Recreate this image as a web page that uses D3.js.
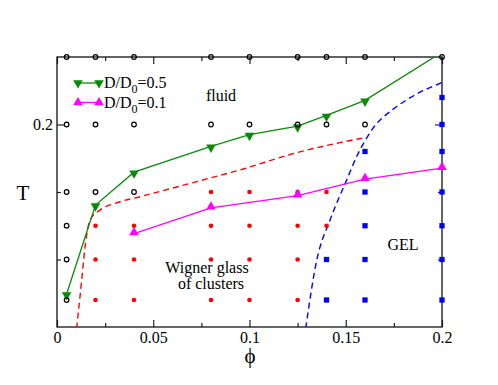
<!DOCTYPE html>
<html>
<head>
<meta charset="utf-8">
<script src="https://cdn.jsdelivr.net/npm/d3@7"></script>
<style>
body { margin: 0; background: #fff; }
svg text { font-family: "Liberation Serif", "Times New Roman", "DejaVu Serif", serif !important; }
</style>
</head>
<body>
<svg id="svg_elem"></svg>
<script>
//chart data, [phi, T]
const fluidPoints = [
	[0.005, 0.25], [0.02, 0.25], [0.04, 0.25], [0.08, 0.25], [0.1, 0.25], [0.125, 0.25], [0.14, 0.25], [0.16, 0.25], [0.2, 0.25],
	[0.005, 0.2], [0.02, 0.2], [0.04, 0.2], [0.08, 0.2], [0.1, 0.2], [0.125, 0.2], [0.14, 0.2], [0.16, 0.2],
	[0.005, 0.15], [0.02, 0.15], [0.04, 0.15],
	[0.005, 0.125], [0.005, 0.1], [0.005, 0.07]
];
const wignerPoints = [
	[0.08, 0.15], [0.1, 0.15], [0.125, 0.15], [0.14, 0.15],
	[0.02, 0.125], [0.04, 0.125], [0.08, 0.125], [0.1, 0.125], [0.125, 0.125], [0.14, 0.125],
	[0.02, 0.1], [0.04, 0.1], [0.08, 0.1], [0.1, 0.1], [0.125, 0.1],
	[0.02, 0.07], [0.04, 0.07], [0.08, 0.07], [0.1, 0.07], [0.125, 0.07]
];
const gelPoints = [
	[0.2, 0.22], [0.2, 0.2], [0.16, 0.18], [0.2, 0.18],
	[0.16, 0.15], [0.2, 0.15], [0.16, 0.125], [0.2, 0.125],
	[0.14, 0.1], [0.16, 0.1], [0.2, 0.1], [0.14, 0.07], [0.16, 0.07], [0.2, 0.07]
];
const diff05 = [
	[0.005, 0.0744], [0.02, 0.1403], [0.04, 0.1647], [0.08, 0.1838], [0.1, 0.1925],
	[0.125, 0.1988], [0.14, 0.2067], [0.16, 0.2179], [0.2, 0.2535]
];
const diff01 = [
	[0.04, 0.1192], [0.08, 0.1383], [0.125, 0.1473], [0.16, 0.1595], [0.2, 0.1677]
];
const redBoundary = [
	[0.0102, 0.049], [0.0128, 0.0843], [0.01455, 0.1092], [0.01714, 0.1291], [0.0223, 0.1366],
	[0.031, 0.142], [0.0431, 0.1465], [0.0603, 0.153], [0.0726, 0.1577], [0.0951, 0.1664],
	[0.1245, 0.1791], [0.147, 0.1866], [0.16, 0.1903]
];
const blueBoundary = [
	[0.1292, 0.049], [0.1349, 0.0993], [0.1418, 0.1291], [0.1505, 0.159], [0.1557, 0.1763],
	[0.1643, 0.1975], [0.1745, 0.2112], [0.185, 0.2211], [0.2, 0.2311]
];
const xTicks = [0, 0.05, 0.1, 0.15, 0.2];
const xMinorTicks = [0.025, 0.075, 0.125, 0.175];
const yTicks = [0.2];
const yMinorTicks = [0.1, 0.15];

//define constants
const svgWidth = 498;
const svgHeight = 385;
const plotLeft = 57, plotRight = 442, plotTop = 57, plotBottom = 327;
const green = '#0a8a0a';
const serif = '"Liberation Serif", "Times New Roman", serif';

var svg = d3.select('#svg_elem')
	.attr('width', svgWidth)
	.attr('height', svgHeight)
	.attr('font-family', serif);

var xScale = d3.scaleLinear().domain([0, 0.2]).range([plotLeft, plotRight]);
var yScale = d3.scaleLinear().domain([0.05, 0.25]).range([plotBottom, plotTop]);

svg.append('clipPath').attr('id', 'plot_clip')
	.append('rect')
		.attr('x', plotLeft).attr('y', plotTop)
		.attr('width', plotRight - plotLeft).attr('height', plotBottom - plotTop);

//axes, ticks inward on all four sides
function styleAxis(g){
	g.attr('font-family', serif).attr('font-size', 16);
	g.select('.domain').remove();
	g.selectAll('line').attr('stroke', '#222').attr('stroke-width', 1.2);
	g.selectAll('text').attr('fill', '#000');
}
svg.append('g').attr('transform', `translate(0,${plotBottom})`)
	.call(d3.axisBottom(xScale).tickValues(xTicks).tickSize(-7).tickPadding(5).tickFormat(d3.format('~g')))
	.call(styleAxis);
svg.append('g').attr('transform', `translate(0,${plotBottom})`)
	.call(d3.axisBottom(xScale).tickValues(xMinorTicks).tickSize(-4).tickFormat(''))
	.call(styleAxis);
svg.append('g').attr('transform', `translate(0,${plotTop})`)
	.call(d3.axisTop(xScale).tickValues(xTicks).tickSize(-7).tickFormat(''))
	.call(styleAxis);
svg.append('g').attr('transform', `translate(0,${plotTop})`)
	.call(d3.axisTop(xScale).tickValues(xMinorTicks).tickSize(-4).tickFormat(''))
	.call(styleAxis);
svg.append('g').attr('transform', `translate(${plotLeft},0)`)
	.call(d3.axisLeft(yScale).tickValues(yTicks).tickSize(-7).tickPadding(4).tickFormat(d3.format('~g')))
	.call(styleAxis);
svg.append('g').attr('transform', `translate(${plotLeft},0)`)
	.call(d3.axisLeft(yScale).tickValues(yMinorTicks).tickSize(-4).tickFormat(''))
	.call(styleAxis);
svg.append('g').attr('transform', `translate(${plotRight},0)`)
	.call(d3.axisRight(yScale).tickValues(yTicks).tickSize(-7).tickFormat(''))
	.call(styleAxis);
svg.append('g').attr('transform', `translate(${plotRight},0)`)
	.call(d3.axisRight(yScale).tickValues(yMinorTicks).tickSize(-4).tickFormat(''))
	.call(styleAxis);

//frame
svg.append('rect')
	.attr('x', plotLeft).attr('y', plotTop)
	.attr('width', plotRight - plotLeft).attr('height', plotBottom - plotTop)
	.attr('fill', 'none').attr('stroke', '#111').attr('stroke-width', 1.3);

var plot = svg.append('g').attr('clip-path', 'url(#plot_clip)');

//dashed boundaries
var smooth = d3.line()
	.x(d => xScale(d[0]))
	.y(d => yScale(d[1]))
	.curve(d3.curveMonotoneX);
plot.append('path').attr('d', smooth(redBoundary))
	.attr('fill', 'none').attr('stroke', '#ff0000').attr('stroke-width', 1.4).attr('stroke-dasharray', '6,4');
plot.append('path').attr('d', smooth(blueBoundary))
	.attr('fill', 'none').attr('stroke', '#0000ff').attr('stroke-width', 1.4).attr('stroke-dasharray', '6,4');

//state points
var square = d3.symbol().type(d3.symbolSquare).size(28);
plot.selectAll('.wigner').data(wignerPoints).enter()
	.append('circle').classed('wigner', true)
	.attr('cx', d => xScale(d[0]))
	.attr('cy', d => yScale(d[1]))
	.attr('r', 2.3)
	.attr('fill', '#ff0000');
svg.selectAll('.gel').data(gelPoints).enter()
	.append('path').classed('gel', true)
	.attr('d', square)
	.attr('transform', d => `translate(${xScale(d[0])},${yScale(d[1])})`)
	.attr('fill', '#0000ff');
svg.selectAll('.fluid').data(fluidPoints).enter()
	.append('circle').classed('fluid', true)
	.attr('cx', d => xScale(d[0]))
	.attr('cy', d => yScale(d[1]))
	.attr('r', 2.3)
	.attr('fill', 'none').attr('stroke', '#000').attr('stroke-width', 1.2);

//diffusivity lines
var straight = d3.line()
	.x(d => xScale(d[0]))
	.y(d => yScale(d[1]));
var tri = d3.symbol().type(d3.symbolTriangle).size(40);

plot.append('path').attr('d', straight(diff05))
	.attr('fill', 'none').attr('stroke', green).attr('stroke-width', 1.3);
plot.selectAll('.d05').data(diff05.filter(d => d[1] <= 0.25)).enter()
	.append('path').classed('d05', true)
	.attr('d', tri)
	.attr('transform', d => `translate(${xScale(d[0])},${yScale(d[1]) + 1}) rotate(180)`)
	.attr('fill', green);

svg.append('path').attr('d', straight(diff01))
	.attr('fill', 'none').attr('stroke', '#ff00ff').attr('stroke-width', 1.3);
svg.selectAll('.d01').data(diff01).enter()
	.append('path').classed('d01', true)
	.attr('d', tri)
	.attr('transform', d => `translate(${xScale(d[0])},${yScale(d[1]) - 1})`)
	.attr('fill', '#ff00ff');

//legend
var legendRows = [
	{color: green, rot: 180, y: 83, value: '0.5'},
	{color: '#ff00ff', rot: 0, y: 102.5, value: '0.1'}
];
legendRows.forEach(r => {
	svg.append('line')
		.attr('x1', 78).attr('x2', 99).attr('y1', r.y).attr('y2', r.y)
		.attr('stroke', r.color).attr('stroke-width', 1.3);
	[78, 99].forEach(x => {
		svg.append('path').attr('d', tri)
			.attr('transform', `translate(${x},${r.y}) rotate(${r.rot})`)
			.attr('fill', r.color);
	});
	var t = svg.append('text')
		.attr('x', 104).attr('y', r.y + 5)
		.attr('font-size', 16);
	t.append('tspan').text('D/D');
	t.append('tspan').attr('dy', 5).attr('font-size', 12).text('0');
	t.append('tspan').attr('dy', -5).text('=' + r.value);
});

//region labels
svg.append('text').attr('x', 221).attr('y', 101).attr('text-anchor', 'middle')
	.attr('font-size', 16).text('fluid');
svg.append('text').attr('x', 207).attr('y', 273).attr('text-anchor', 'middle')
	.attr('font-size', 16).text('Wigner glass');
svg.append('text').attr('x', 211).attr('y', 289).attr('text-anchor', 'middle')
	.attr('font-size', 16).text('of clusters');
svg.append('text').attr('x', 403).attr('y', 250).attr('text-anchor', 'middle')
	.attr('font-size', 16).text('GEL');

//axis titles
svg.append('text').attr('x', 23).attr('y', 200).attr('text-anchor', 'middle')
	.attr('font-size', 21).text('T');
svg.append('text').attr('x', 250).attr('y', 363).attr('text-anchor', 'middle')
	.attr('font-size', 21).text('\u03D5');
</script>
</body>
</html>
